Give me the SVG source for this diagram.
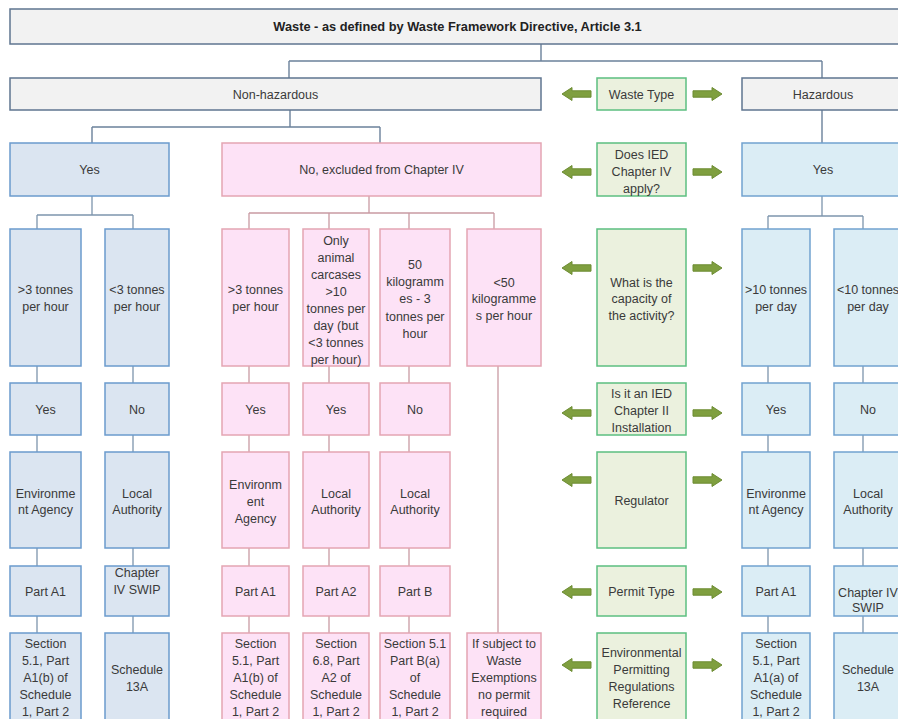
<svg xmlns="http://www.w3.org/2000/svg" width="898" height="719" viewBox="0 0 898 719">
<style>
  text { font-family: "Liberation Sans", Arial, sans-serif; font-size: 12.5px; fill: #3a3a3a; text-anchor: middle; }
  .b { font-weight: bold; font-size: 12.8px; fill: #222; }
  .gray { fill: #f2f2f2; stroke: #5f7590; stroke-width: 1.5; }
  .blue { fill: #dbe5f1; stroke: #6b9bcd; stroke-width: 1.5; }
  .hblue { fill: #dbedf5; stroke: #72a2cf; stroke-width: 1.5; }
  .pink { fill: #fde2f6; stroke: #e4a5b3; stroke-width: 1.5; }
  .green { fill: #ebf1de; stroke: #5cbf80; stroke-width: 1.5; }
  .cg { fill: none; stroke: #6b819b; stroke-width: 1.4; }
  .cb { fill: none; stroke: #7d95ad; stroke-width: 1.3; }
  .cp { fill: none; stroke: #c99aa3; stroke-width: 1.3; }
  .arr { fill: #7f9f3f; stroke: #6d8c33; stroke-width: 1; }
</style>
<defs>
  <path id="aL" d="M0,0 L10,-6.5 L10,-3.2 L29,-3.2 L29,3.2 L10,3.2 L10,6.5 Z"/>
  <path id="aR" d="M0,0 L-10,-6.5 L-10,-3.2 L-29,-3.2 L-29,3.2 L-10,3.2 L-10,6.5 Z"/>
</defs>
<rect x="0" y="0" width="898" height="719" fill="#ffffff"/>

<g id="connectors">
  <path class="cg" d="M541,44 V61 M289,61 H822 M289,61 V78 M822,61 V78 M290,110 V127 M92,127 H380 M92,127 V143 M380,127 V143 M822,110 V143"/>
  <path class="cb" d="M92,196 V215 M37,215 H133 M37,215 V229 M133,215 V229
    M37,366 V383 M37,435 V452 M37,548 V566 M37,616 V633
    M133,366 V383 M133,435 V452 M133,548 V566 M133,616 V633"/>
  <path class="cp" d="M369,196 V213 M249,213 H494 M249,213 V229 M329,213 V229 M409,213 V229 M494,213 V229
    M249,366 V383 M249,435 V452 M249,548 V566 M249,616 V633
    M329,366 V383 M329,435 V452 M329,548 V566 M329,616 V633
    M409,366 V383 M409,435 V452 M409,548 V566 M409,616 V633
    M498,366 V633"/>
  <path class="cb" d="M822,196 V216 M768,216 H863 M768,216 V229 M863,216 V229
    M768,366 V383 M768,435 V452 M768,548 V566 M768,616 V633
    M863,366 V383 M863,435 V452 M863,548 V566 M863,616 V633"/>
</g>

<g id="arrows">
  <use href="#aL" class="arr" x="562" y="94"/><use href="#aR" class="arr" x="722" y="94"/>
  <use href="#aL" class="arr" x="562" y="172"/><use href="#aR" class="arr" x="722" y="172"/>
  <use href="#aL" class="arr" x="562" y="268"/><use href="#aR" class="arr" x="722" y="268"/>
  <use href="#aL" class="arr" x="562" y="413"/><use href="#aR" class="arr" x="722" y="413"/>
  <use href="#aL" class="arr" x="562" y="480"/><use href="#aR" class="arr" x="722" y="480"/>
  <use href="#aL" class="arr" x="562" y="592"/><use href="#aR" class="arr" x="722" y="592"/>
  <use href="#aL" class="arr" x="562" y="665"/><use href="#aR" class="arr" x="722" y="665"/>
</g>

<g id="title"><rect class="gray" x="10" y="9" width="895" height="35"/><text class="b" x="457.5" y="30.5">Waste - as defined by Waste Framework Directive, Article 3.1</text></g>
<g id="nonhaz"><rect class="gray" x="10" y="78" width="531" height="32"/><text x="275.5" y="98.5">Non-hazardous</text></g>
<g id="haz"><rect class="gray" x="742" y="78" width="163" height="32"/><text x="823" y="98.5">Hazardous</text></g>

<g id="g-wastetype"><rect class="green" x="597" y="78" width="89" height="32"/><text x="641.5" y="98.5">Waste Type</text></g>
<g id="g-ied4"><rect class="green" x="597" y="143" width="89" height="53"/><text x="641.5" y="158.5">Does IED</text><text x="641.5" y="175.5">Chapter IV</text><text x="641.5" y="192.5">apply?</text></g>
<g id="g-capacity"><rect class="green" x="597" y="229" width="89" height="137"/><text x="641.5" y="286.5">What is the</text><text x="641.5" y="303">capacity of</text><text x="641.5" y="319.5">the activity?</text></g>
<g id="g-ied2"><rect class="green" x="597" y="383" width="89" height="52"/><text x="641.5" y="397.5">Is it an IED</text><text x="641.5" y="414.5">Chapter II</text><text x="641.5" y="431.5">Installation</text></g>
<g id="g-regulator"><rect class="green" x="597" y="452" width="89" height="96"/><text x="641.5" y="504.5">Regulator</text></g>
<g id="g-permit"><rect class="green" x="597" y="566" width="89" height="50"/><text x="641.5" y="595.5">Permit Type</text></g>
<g id="g-epr"><rect class="green" x="597" y="633" width="89" height="89"/><text x="641.5" y="656.5">Environmental</text><text x="641.5" y="673.5">Permitting</text><text x="641.5" y="690.5">Regulations</text><text x="641.5" y="707.5">Reference</text></g>

<g id="nh-yes"><rect class="blue" x="10" y="143" width="159" height="53"/><text x="89.5" y="174">Yes</text></g>
<g id="nh1-cap"><rect class="blue" x="10" y="229" width="71" height="137"/><text x="45.5" y="293.5">&gt;3 tonnes</text><text x="45.5" y="310.5">per hour</text></g>
<g id="nh1-ied"><rect class="blue" x="10" y="383" width="71" height="52"/><text x="45.5" y="413.5">Yes</text></g>
<g id="nh1-reg"><rect class="blue" x="10" y="452" width="71" height="96"/><text x="45.5" y="497.5">Environme</text><text x="45.5" y="513.5">nt Agency</text></g>
<g id="nh1-permit"><rect class="blue" x="10" y="566" width="71" height="50"/><text x="45.5" y="595.5">Part A1</text></g>
<g id="nh1-epr"><rect class="blue" x="10" y="633" width="71" height="89"/><text x="45.5" y="647.5">Section</text><text x="45.5" y="664.5">5.1, Part</text><text x="45.5" y="681.5">A1(b) of</text><text x="45.5" y="698.5">Schedule</text><text x="45.5" y="715.5">1, Part 2</text></g>

<g id="nh2-cap"><rect class="blue" x="105" y="229" width="64" height="137"/><text x="137" y="293.5">&lt;3 tonnes</text><text x="137" y="310.5">per hour</text></g>
<g id="nh2-ied"><rect class="blue" x="105" y="383" width="64" height="52"/><text x="137" y="413.5">No</text></g>
<g id="nh2-reg"><rect class="blue" x="105" y="452" width="64" height="96"/><text x="137" y="497.5">Local</text><text x="137" y="513.5">Authority</text></g>
<g id="nh2-permit"><rect class="blue" x="105" y="566" width="64" height="50"/><text x="137" y="576.5">Chapter</text><text x="137" y="593.5">IV SWIP</text></g>
<g id="nh2-epr"><rect class="blue" x="105" y="633" width="64" height="89"/><text x="137" y="673.5">Schedule</text><text x="137" y="690.5">13A</text></g>

<g id="p-excluded"><rect class="pink" x="222" y="143" width="319" height="53"/><text x="381.5" y="174">No, excluded from Chapter IV</text></g>
<g id="p1-cap"><rect class="pink" x="222" y="229" width="67" height="137"/><text x="255.5" y="293.5">&gt;3 tonnes</text><text x="255.5" y="310.5">per hour</text></g>
<g id="p1-ied"><rect class="pink" x="222" y="383" width="67" height="52"/><text x="255.5" y="413.5">Yes</text></g>
<g id="p1-reg"><rect class="pink" x="222" y="452" width="67" height="96"/><text x="255.5" y="488.5">Environm</text><text x="255.5" y="505.5">ent</text><text x="255.5" y="522.5">Agency</text></g>
<g id="p1-permit"><rect class="pink" x="222" y="566" width="67" height="50"/><text x="255.5" y="595.5">Part A1</text></g>
<g id="p1-epr"><rect class="pink" x="222" y="633" width="67" height="89"/><text x="255.5" y="647.5">Section</text><text x="255.5" y="664.5">5.1, Part</text><text x="255.5" y="681.5">A1(b) of</text><text x="255.5" y="698.5">Schedule</text><text x="255.5" y="715.5">1, Part 2</text></g>

<g id="p2-cap"><rect class="pink" x="303" y="229" width="66" height="137"/><text x="336" y="244.5">Only</text><text x="336" y="261.5">animal</text><text x="336" y="278.5">carcases</text><text x="336" y="295.5">&gt;10</text><text x="336" y="312.5">tonnes per</text><text x="336" y="329.5">day (but</text><text x="336" y="346.5">&lt;3 tonnes</text><text x="336" y="363.5">per hour)</text></g>
<g id="p2-ied"><rect class="pink" x="303" y="383" width="66" height="52"/><text x="336" y="413.5">Yes</text></g>
<g id="p2-reg"><rect class="pink" x="303" y="452" width="66" height="96"/><text x="336" y="497.5">Local</text><text x="336" y="513.5">Authority</text></g>
<g id="p2-permit"><rect class="pink" x="303" y="566" width="66" height="50"/><text x="336" y="595.5">Part A2</text></g>
<g id="p2-epr"><rect class="pink" x="303" y="633" width="66" height="89"/><text x="336" y="647.5">Section</text><text x="336" y="664.5">6.8, Part</text><text x="336" y="681.5">A2 of</text><text x="336" y="698.5">Schedule</text><text x="336" y="715.5">1, Part 2</text></g>

<g id="p3-cap"><rect class="pink" x="380" y="229" width="70" height="137"/><text x="415" y="268.5">50</text><text x="415" y="285.5">kilogramm</text><text x="415" y="303">es - 3</text><text x="415" y="320.5">tonnes per</text><text x="415" y="337.5">hour</text></g>
<g id="p3-ied"><rect class="pink" x="380" y="383" width="70" height="52"/><text x="415" y="413.5">No</text></g>
<g id="p3-reg"><rect class="pink" x="380" y="452" width="70" height="96"/><text x="415" y="497.5">Local</text><text x="415" y="513.5">Authority</text></g>
<g id="p3-permit"><rect class="pink" x="380" y="566" width="70" height="50"/><text x="415" y="595.5">Part B</text></g>
<g id="p3-epr"><rect class="pink" x="380" y="633" width="70" height="89"/><text x="415" y="647.5">Section 5.1</text><text x="415" y="664.5">Part B(a)</text><text x="415" y="681.5">of</text><text x="415" y="698.5">Schedule</text><text x="415" y="715.5">1, Part 2</text></g>

<g id="p4-cap"><rect class="pink" x="467" y="229" width="74" height="137"/><text x="504" y="286.5">&lt;50</text><text x="504" y="303">kilogramme</text><text x="504" y="319.5">s per hour</text></g>
<g id="p4-epr"><rect class="pink" x="467" y="633" width="74" height="89"/><text x="504" y="647.5">If subject to</text><text x="504" y="664.5">Waste</text><text x="504" y="681.5">Exemptions</text><text x="504" y="698.5">no permit</text><text x="504" y="715.5">required</text></g>

<g id="h-yes"><rect class="hblue" x="742" y="143" width="163" height="53"/><text x="823" y="174">Yes</text></g>
<g id="h1-cap"><rect class="hblue" x="742" y="229" width="68" height="137"/><text x="776" y="293.5">&gt;10 tonnes</text><text x="776" y="310.5">per day</text></g>
<g id="h1-ied"><rect class="hblue" x="742" y="383" width="68" height="52"/><text x="776" y="413.5">Yes</text></g>
<g id="h1-reg"><rect class="hblue" x="742" y="452" width="68" height="96"/><text x="776" y="497.5">Environme</text><text x="776" y="513.5">nt Agency</text></g>
<g id="h1-permit"><rect class="hblue" x="742" y="566" width="68" height="50"/><text x="776" y="595.5">Part A1</text></g>
<g id="h1-epr"><rect class="hblue" x="742" y="633" width="68" height="89"/><text x="776" y="647.5">Section</text><text x="776" y="664.5">5.1, Part</text><text x="776" y="681.5">A1(a) of</text><text x="776" y="698.5">Schedule</text><text x="776" y="715.5">1, Part 2</text></g>

<g id="h2-cap"><rect class="hblue" x="834" y="229" width="68" height="137"/><text x="868" y="293.5">&lt;10 tonnes</text><text x="868" y="310.5">per day</text></g>
<g id="h2-ied"><rect class="hblue" x="834" y="383" width="68" height="52"/><text x="868" y="413.5">No</text></g>
<g id="h2-reg"><rect class="hblue" x="834" y="452" width="68" height="96"/><text x="868" y="497.5">Local</text><text x="868" y="513.5">Authority</text></g>
<g id="h2-permit"><rect class="hblue" x="834" y="566" width="68" height="50"/><text x="868" y="596.5">Chapter IV</text><text x="868" y="611.5">SWIP</text></g>
<g id="h2-epr"><rect class="hblue" x="834" y="633" width="68" height="89"/><text x="868" y="673.5">Schedule</text><text x="868" y="690.5">13A</text></g>
</svg>
